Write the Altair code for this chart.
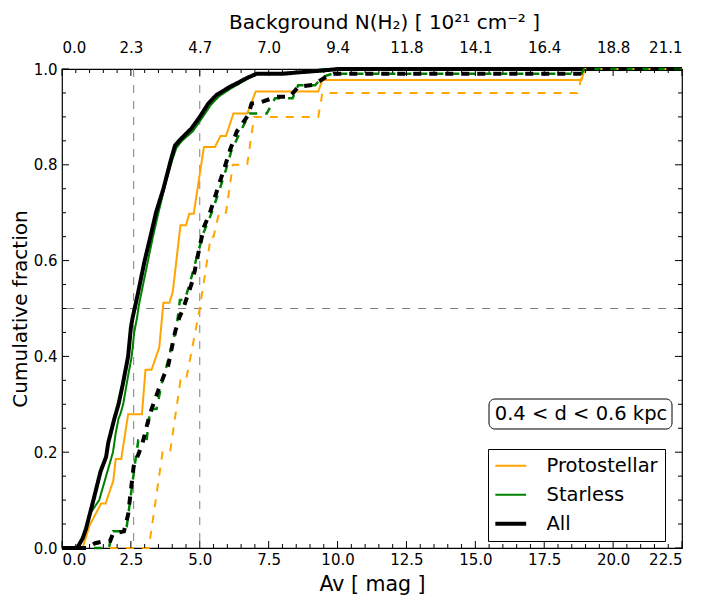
import json
import pandas as pd
import altair as alt

# cumulative curves (Av in mag, cumulative fraction)
proto_av = [0, 0.75, 1.0, 1.42, 1.58, 1.86, 1.95, 2.15, 2.4, 2.9, 3.03, 3.25, 3.53, 3.68, 3.9, 4.02,
            4.3, 4.5, 4.62, 4.78, 5.15, 5.55, 5.75, 5.95, 6.22, 6.72, 7.03, 9.3, 9.45, 18.85, 18.98, 22.5]
proto_frac = [0, 0, 0.047, 0.093, 0.093, 0.14, 0.186, 0.186, 0.279, 0.279, 0.372, 0.372, 0.419, 0.512,
              0.512, 0.535, 0.674, 0.674, 0.698, 0.698, 0.837, 0.837, 0.86, 0.86, 0.907, 0.907, 0.953,
              0.953, 0.977, 0.977, 1.0, 1.0]

starless_av = [0, 0.6, 0.8, 1.0, 1.35, 1.6, 1.85, 1.95, 2.05, 2.12, 2.22, 2.4, 2.53, 2.62, 2.72, 2.8,
               3.12, 3.3, 3.5, 3.75, 4.0, 4.15, 4.35, 4.75, 5.05, 5.4, 5.7, 6.15, 6.4, 6.75, 7.1, 8.0,
               9.0, 9.5, 22.5]
starless_frac = [0, 0, 0.03, 0.07, 0.1, 0.15, 0.2, 0.24, 0.27, 0.28, 0.3, 0.36, 0.4, 0.45, 0.48, 0.51,
                 0.6, 0.65, 0.7, 0.76, 0.81, 0.835, 0.85, 0.87, 0.895, 0.925, 0.943, 0.96, 0.968, 0.98,
                 0.99, 0.992, 0.995, 1.0, 1.0]

all_av = [0, 0.55, 0.75, 0.87, 1.14, 1.4, 1.6, 1.68, 1.9, 2.05, 2.2, 2.4, 2.5, 2.56, 2.75, 3.0, 3.25,
          3.41, 3.68, 3.95, 4.1, 4.28, 4.7, 5.0, 5.31, 5.61, 6.1, 6.34, 6.7, 7.06, 8.0, 8.6, 9.5, 10.0,
          22.5]
all_frac = [0, 0, 0.02, 0.04, 0.1, 0.16, 0.19, 0.22, 0.27, 0.3, 0.34, 0.4, 0.46, 0.48, 0.53, 0.6, 0.66,
            0.7, 0.75, 0.81, 0.84, 0.852, 0.876, 0.9, 0.928, 0.946, 0.963, 0.97, 0.981, 0.99, 0.99,
            0.993, 0.997, 1.0, 1.0]

proto_b_av = [0, 3.15, 3.65, 3.92, 4.3, 4.5, 5.0, 5.4, 5.5, 5.7, 5.95, 6.2, 6.72, 6.97, 9.3, 9.45,
              18.7, 18.95, 22.5]
proto_b_frac = [0, 0, 0.2, 0.2, 0.35, 0.35, 0.5, 0.65, 0.65, 0.7, 0.7, 0.8, 0.8, 0.9, 0.9, 0.95, 0.95,
                1.0, 1.0]

starless_b_av = [0, 1.7, 1.85, 2.25, 2.35, 2.65, 2.77, 3.07, 3.2, 3.43, 3.68, 3.8, 4.16, 4.28, 4.46,
                 4.64, 4.95, 5.15, 5.4, 5.7, 5.95, 6.15, 6.4, 6.8, 7.43, 7.73, 8.37, 8.57, 9.18, 9.48,
                 9.8, 18.85, 18.95, 22.5]
starless_b_frac = [0, 0, 0.035, 0.035, 0.045, 0.177, 0.225, 0.225, 0.29, 0.29, 0.361, 0.38, 0.462,
                   0.518, 0.518, 0.553, 0.62, 0.66, 0.695, 0.745, 0.79, 0.83, 0.86, 0.907, 0.907, 0.939,
                   0.939, 0.966, 0.966, 0.984, 0.99, 0.99, 1.0, 1.0]

all_b_av = [0, 0.9, 1.2, 1.45, 1.75, 1.85, 2.25, 2.4, 2.6, 2.8, 2.95, 3.1, 3.25, 3.5, 3.7, 3.85, 4.1,
            4.25, 4.4, 4.75, 5.0, 5.15, 5.37, 5.67, 5.91, 6.1, 6.34, 6.76, 6.88, 7.18, 7.79, 8.27, 8.57,
            9.12, 9.6, 9.85, 18.85, 18.95, 22.5]
all_b_frac = [0, 0, 0.01, 0.013, 0.015, 0.03, 0.035, 0.07, 0.17, 0.2, 0.225, 0.26, 0.29, 0.33, 0.36,
              0.38, 0.45, 0.48, 0.5, 0.56, 0.63, 0.67, 0.7, 0.754, 0.796, 0.831, 0.869, 0.904, 0.928,
              0.93, 0.942, 0.942, 0.963, 0.967, 0.984, 0.99, 0.99, 1.0, 1.0]

groups = ['Protostellar', 'Starless', 'All']
colors = ['orange', 'green', 'black']

ref_av = [2.6, 5.0]
ref_frac = [0.5]

x_major = [0, 2.5, 5, 7.5, 10, 12.5, 15, 17.5, 20, 22.5]
x_minor = [v / 2 for v in range(46) if v % 5 != 0]
y_major = [0, 0.2, 0.4, 0.6, 0.8, 1.0]
y_minor = [v / 20 for v in range(21) if v % 4 != 0]
top_labels = ['0.0', '2.3', '4.7', '7.0', '9.4', '11.8', '14.1', '16.4', '18.8', '21.1']

W, H = 620, 479
FONT = 'DejaVu Sans'

xscale = alt.Scale(domain=[0, 22.5], nice=False, zero=False)
yscale = alt.Scale(domain=[0, 1], nice=False)
yaxis = alt.Axis(values=y_major, format='.1f', ticks=False, domain=False, grid=False,
                 labelFontSize=15, labelPadding=5, title='Cumulative fraction',
                 titleFontSize=20, titleFontWeight='normal', titlePadding=3)
color_enc = alt.Color('group:N', scale=alt.Scale(domain=groups, range=colors),
                      legend=alt.Legend(orient='none', legendX=426, legendY=380, title=None,
                                        fillColor='white', strokeColor='black', padding=7,
                                        labelFontSize=19.5, labelFont=FONT, symbolType='stroke',
                                        symbolSize=950, symbolOffset=6, labelOffset=26,
                                        rowPadding=8,
                                        symbolStrokeWidth=alt.ExprRef(
                                            "datum.value == 'All' ? 4 : 2"),
                                        cornerRadius=0))


def curve(av, frac, group, dashed, width, show_axis=False):
    df = pd.DataFrame({'av': av, 'frac': frac, 'group': group})
    df['i'] = range(len(df))
    xax = None
    if show_axis:
        xax = alt.Axis(values=x_major, format='.1f', ticks=False, domain=False, grid=False,
                       labelFontSize=15, labelPadding=4, title='Av [ mag ]', titleFontSize=20.5,
                       titleFontWeight='normal', titlePadding=7)
    mark = alt.Chart(df).mark_line(strokeDash=[8, 8] if dashed else [1, 0], strokeWidth=width)
    return mark.encode(
        x=alt.X('av:Q', scale=xscale, axis=xax),
        y=alt.Y('frac:Q', scale=yscale, axis=yaxis),
        color=color_enc,
        order='i:O',
    )


ref_v = alt.Chart(pd.DataFrame({'av': ref_av})).mark_rule(
    color='gray', strokeDash=[8, 8], strokeWidth=1).encode(
    x=alt.X('av:Q', scale=xscale, axis=None))
ref_h = alt.Chart(pd.DataFrame({'frac': ref_frac})).mark_rule(
    color='gray', strokeDash=[8, 8], strokeWidth=1).encode(
    y=alt.Y('frac:Q', scale=yscale, axis=yaxis))

lines = [
    curve(proto_av, proto_frac, 'Protostellar', False, 2, show_axis=True),
    curve(starless_av, starless_frac, 'Starless', False, 2),
    curve(all_av, all_frac, 'All', False, 4),
    curve(proto_b_av, proto_b_frac, 'Protostellar', True, 2),
    curve(starless_b_av, starless_b_frac, 'Starless', True, 2.5),
    curve(all_b_av, all_b_frac, 'All', True, 4),
]

# inward ticks, matplotlib style
label_expr = json.dumps(top_labels) + '[round(datum.value / 2.5)]'
top_axis = alt.Axis(orient='top', values=x_major, labelExpr=label_expr, ticks=False, domain=False,
                    grid=False, labelFontSize=15, labelPadding=14,
                    title='Background N(H\u2082)  [ 10\u00b2\u00b9  cm\u207b\u00b2 ]',
                    titleFontSize=20, titleFontWeight='normal', titlePadding=8, titleX=W / 2 + 12)
xt_major = pd.DataFrame({'v': x_major})
xt_minor = pd.DataFrame({'v': x_minor})
yt_major = pd.DataFrame({'v': y_major})
yt_minor = pd.DataFrame({'v': y_minor})

ticks = []
for d, ln in [(xt_major, 7), (xt_minor, 4)]:
    ticks.append(alt.Chart(d).mark_rule(color='black', strokeWidth=1).encode(
        x=alt.X('v:Q', scale=xscale, axis=top_axis if ln == 7 else None),
        y=alt.value(H), y2=alt.value(H - ln)))
    ticks.append(alt.Chart(d).mark_rule(color='black', strokeWidth=1).encode(
        x=alt.X('v:Q', scale=xscale, axis=None),
        y=alt.value(0), y2=alt.value(ln)))
for d, ln in [(yt_major, 7), (yt_minor, 4)]:
    ticks.append(alt.Chart(d).mark_rule(color='black', strokeWidth=1).encode(
        y=alt.Y('v:Q', scale=yscale, axis=yaxis),
        x=alt.value(0), x2=alt.value(ln)))
    ticks.append(alt.Chart(d).mark_rule(color='black', strokeWidth=1).encode(
        y=alt.Y('v:Q', scale=yscale, axis=yaxis),
        x=alt.value(W), x2=alt.value(W - ln)))

box = alt.Chart(pd.DataFrame({'t': ['0.4 < d < 0.6 kpc']})).mark_rect(
    fill='white', stroke='black', strokeWidth=1, cornerRadius=6).encode(
    x=alt.value(427), x2=alt.value(610), y=alt.value(330), y2=alt.value(360))
box_text = alt.Chart(pd.DataFrame({'t': ['0.4 < d < 0.6 kpc']})).mark_text(
    fontSize=19.5, font=FONT, color='black', align='center', baseline='middle').encode(
    x=alt.value(519), y=alt.value(345), text='t:N')

chart = alt.layer(ref_v, ref_h, *lines, *ticks, box, box_text).resolve_axis(
    x='independent'
).properties(
    width=W, height=H,
    autosize=alt.AutoSizeParams(type='none'),
    padding={'left': 54, 'top': 61, 'right': 20, 'bottom': 47},
).configure(font=FONT).configure_view(
    stroke='black', strokeWidth=1.2
).configure_axis(
    labelFont=FONT, titleFont=FONT, labelColor='black', titleColor='black'
)

chart.save('out.html', embed_options={'renderer': 'svg', 'actions': False})
